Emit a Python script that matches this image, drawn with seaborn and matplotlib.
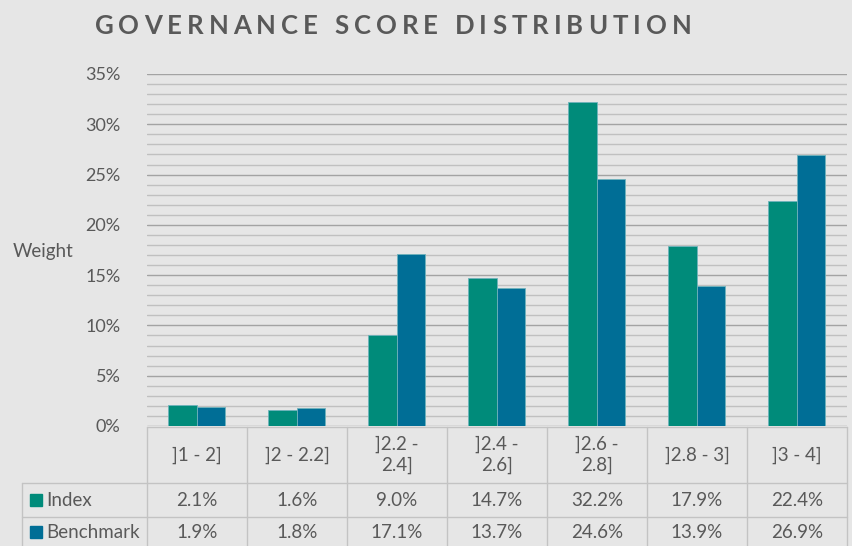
import numpy as np
import pandas as pd
import seaborn as sns
import matplotlib.pyplot as plt
from matplotlib.ticker import MultipleLocator, FuncFormatter
from matplotlib.lines import Line2D
from matplotlib.patches import Rectangle
import matplotlib.transforms as mtrans

# data
categories = ["]1 - 2]", "]2 - 2.2]", "]2.2 -\n2.4]", "]2.4 -\n2.6]",
              "]2.6 -\n2.8]", "]2.8 - 3]", "]3 - 4]"]
index_vals = [2.1, 1.6, 9.0, 14.7, 32.2, 17.9, 22.4]
bench_vals = [1.9, 1.8, 17.1, 13.7, 24.6, 13.9, 26.9]
series = ["Index", "Benchmark"]
colors = ["#008B7A", "#006E96"]

df = pd.DataFrame({
    "range": categories * 2,
    "series": ["Index"] * len(categories) + ["Benchmark"] * len(categories),
    "weight": index_vals + bench_vals,
})

W, H = 853, 546
bg = "#E6E6E6"
txt = "#595959"
grid_minor = "#C0C0C0"
grid_major = "#A3A3A3"
table_line = "#C3C3C3"

sns.set_theme(style="white")
plt.rcParams["font.family"] = ["Lato", "DejaVu Sans"]

fig = plt.figure(figsize=(W / 100, H / 100), dpi=100, facecolor=bg)
# plot area in pixels: x 147..847, y 74..426 (from top)
ax = fig.add_axes([147 / W, (H - 426) / H, 700 / W, 352 / H])
ax.set_facecolor(bg)

sns.barplot(data=df, x="range", y="weight", hue="series", hue_order=series,
            palette=colors, saturation=1, width=0.57, ax=ax,
            edgecolor="#6FB3BC", linewidth=0.6, zorder=3, legend=False)

ax.set_xlim(-0.5, len(categories) - 0.5)
ax.set_ylim(0, 35)
ax.yaxis.set_major_locator(MultipleLocator(5))
ax.yaxis.set_minor_locator(MultipleLocator(1))
ax.yaxis.set_major_formatter(FuncFormatter(lambda v, p: f"{v:.0f}%"))
ax.grid(which="minor", axis="y", color=grid_minor, lw=1.0, zorder=0)
ax.grid(which="major", axis="y", color=grid_major, lw=1.0, zorder=0)
ax.set_axisbelow(True)
for s in ax.spines.values():
    s.set_visible(False)
ax.tick_params(axis="y", which="both", length=0, pad=19, labelsize=13,
               labelcolor=txt)
ax.set_xticks([])
ax.set_xlabel("")
ax.set_ylabel("")

# helpers: pixel (from top) -> figure fraction
def fy(py):
    return (H - py) / H

def fx(px):
    return px / W

fig.text(fx(13), fy(251), "Weight", fontsize=13.5, color=txt, ha="left",
         va="center")

# data table under the chart
blend = mtrans.blended_transform_factory(ax.transData, fig.transFigure)
n = len(categories)
y_top, y_r1, y_r2, y_bot = 427, 483, 517, 546
fig.add_artist(Line2D([fx(147), fx(847)], [fy(y_top)] * 2, color=table_line,
                      lw=1.0))
for yy in (y_r1, y_r2):
    fig.add_artist(Line2D([fx(22), fx(847)], [fy(yy)] * 2, color=table_line,
                          lw=1.0))
fig.add_artist(Line2D([fx(22), fx(22)], [fy(y_r1), fy(y_bot)],
                      color=table_line, lw=1.0))
for i in range(n + 1):
    fig.add_artist(Line2D([i - 0.5, i - 0.5], [fy(y_top), fy(y_bot)],
                          color=table_line, lw=1.0, transform=blend))

for i, cat in enumerate(categories):
    fig.text(i, fy(455), cat, transform=blend, ha="center", va="center",
             fontsize=13.5, color=txt, linespacing=1.3)
    fig.text(i, fy(500), f"{index_vals[i]:.1f}%", transform=blend,
             ha="center", va="center", fontsize=13.5, color=txt)
    fig.text(i, fy(532), f"{bench_vals[i]:.1f}%", transform=blend,
             ha="center", va="center", fontsize=13.5, color=txt)

for name, col, yy in zip(series, colors, (500, 532)):
    fig.add_artist(Rectangle((fx(30), fy(yy + 6)), 12 / W, 12 / H,
                             color=col, transform=fig.transFigure))
    fig.text(fx(46), fy(yy), name, ha="left", va="center", fontsize=13.5,
             color=txt)

# letter-spaced title, drawn one glyph at a time
title = "GOVERNANCE SCORE DISTRIBUTION"
spacing = 5.0
renderer = fig.canvas.get_renderer()
glyphs, widths = [], []
for ch in title:
    t = fig.text(0, fy(26), ch, fontsize=18.5, fontweight="bold", color=txt,
                 ha="left", va="center")
    if ch == " ":
        w = 6.5
    else:
        w = t.get_window_extent(renderer).width
    glyphs.append(t)
    widths.append(w)
total = sum(widths) + spacing * (len(title) - 1)
x = 393 - total / 2
for t, w in zip(glyphs, widths):
    t.set_x(fx(x))
    x += w + spacing

fig.savefig("out.png", dpi=100, facecolor=bg)
